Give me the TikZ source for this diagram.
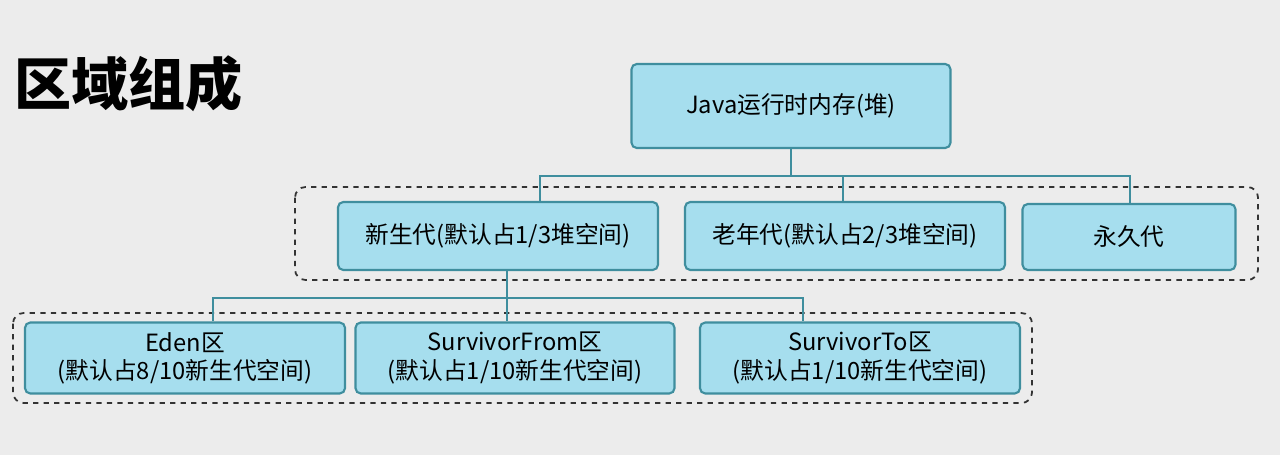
\documentclass[tikz,border=0pt]{standalone}
\usepackage{fontspec}
\setmainfont{Noto Sans CJK SC}
\begin{document}
\begin{tikzpicture}[x=0.02cm,y=-0.02cm,
  bx/.style={draw=boxline,fill=boxfill,line width=1.2pt,rounded corners=3pt,align=center,font=\fontsize{13.5}{16}\selectfont,inner sep=0pt},
  grp/.style={draw=black!80,dashed,line width=1pt,rounded corners=6pt},
  ln/.style={draw=boxline,line width=1.2pt}]
\definecolor{boxfill}{HTML}{A6DEEE}
\definecolor{boxline}{HTML}{3F8E9E}
\fill[fill={rgb,255:red,236;green,236;blue,236}] (0,0) rectangle (1280,455);
\useasboundingbox (0,0) rectangle (1280,455);
\node[anchor=west,font=\fontsize{32.5}{35}\selectfont\bfseries,inner sep=0pt] (title) at (14,84) {区域组成};
\draw[grp] (295,187) rectangle (1258,280);
\draw[grp] (13,313) rectangle (1032,403);
\node[bx,minimum width=319*0.02cm,minimum height=84*0.02cm] (java) at (791,106) {Java运行时内存(堆)};
\node[bx,minimum width=320*0.02cm,minimum height=68*0.02cm] (xin) at (498,236) {新生代(默认占1/3堆空间)};
\node[bx,minimum width=320*0.02cm,minimum height=68*0.02cm] (lao) at (845,236) {老年代(默认占2/3堆空间)};
\node[bx,minimum width=213*0.02cm,minimum height=66*0.02cm] (yong) at (1129,237) {永久代};
\node[bx,minimum width=320*0.02cm,minimum height=71*0.02cm] (eden) at (185,358) {Eden区\\(默认占8/10新生代空间)};
\node[bx,minimum width=319*0.02cm,minimum height=71*0.02cm] (sf) at (515,358) {SurvivorFrom区\\(默认占1/10新生代空间)};
\node[bx,minimum width=320*0.02cm,minimum height=71*0.02cm] (st) at (860,358) {SurvivorTo区\\(默认占1/10新生代空间)};
\coordinate (j1) at (791,176);
\draw[ln] (java.south) -- (j1);
\draw[ln] (xin.north -| 540,0) -- (540,176) -- (1130,176) -- (yong.north -| 1130,0);
\draw[ln] (843,176) -- (lao.north -| 843,0);
\draw[ln] (xin.south -| 507,0) -- (507,298);
\draw[ln] (eden.north -| 213,0) -- (213,298) -- (803,298) -- (st.north -| 803,0);
\draw[ln] (507,298) -- (sf.north -| 507,0);
\end{tikzpicture}
\end{document}
